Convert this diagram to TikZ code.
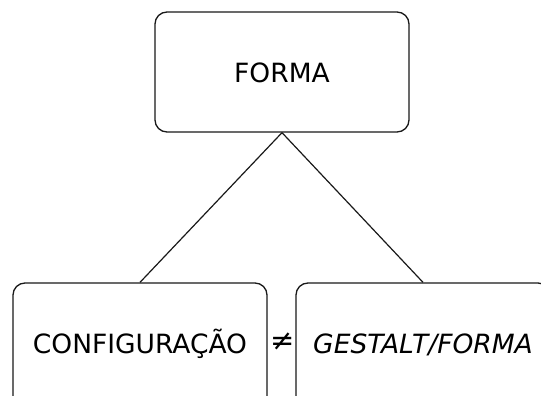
\documentclass[tikz,border=0pt]{standalone}
\usepackage{fontspec}
\setmainfont{DejaVu Sans}
\begin{document}
\begin{tikzpicture}[x=1pt,y=-1pt,
  box/.style={draw=black!90, line width=1.3pt, rounded corners=12pt,
    inner sep=0pt, font=\fontsize{26.5}{30}\selectfont},
  link/.style={draw=black!90, line width=1.2pt}]
  \path[use as bounding box, clip] (0,0) rectangle (541,396);
  % top box: FORMA (155..409 x 12..132)
  \node[box, minimum width=254pt, minimum height=120pt,
        text height=20pt, text depth=0pt] (forma) at (282,72) {FORMA};
  % lower boxes run past the bottom edge
  \node[box, minimum width=254pt, minimum height=130pt,
        text height=15pt, text depth=5pt] (config) at (140,348) {CONFIGURAÇÃO};
  \node[box, minimum width=254pt, minimum height=130pt,
        text height=15pt, text depth=5pt] (gestalt) at (423,348) {\itshape GESTALT/FORMA};
  \node[inner sep=0pt, font=\fontsize{29}{30}\selectfont] (neq) at (282.5,341.5) {≠};
  \draw[link] (forma.south) -- (config.north);
  \draw[link] (forma.south) -- (gestalt.north);
\end{tikzpicture}
\end{document}
